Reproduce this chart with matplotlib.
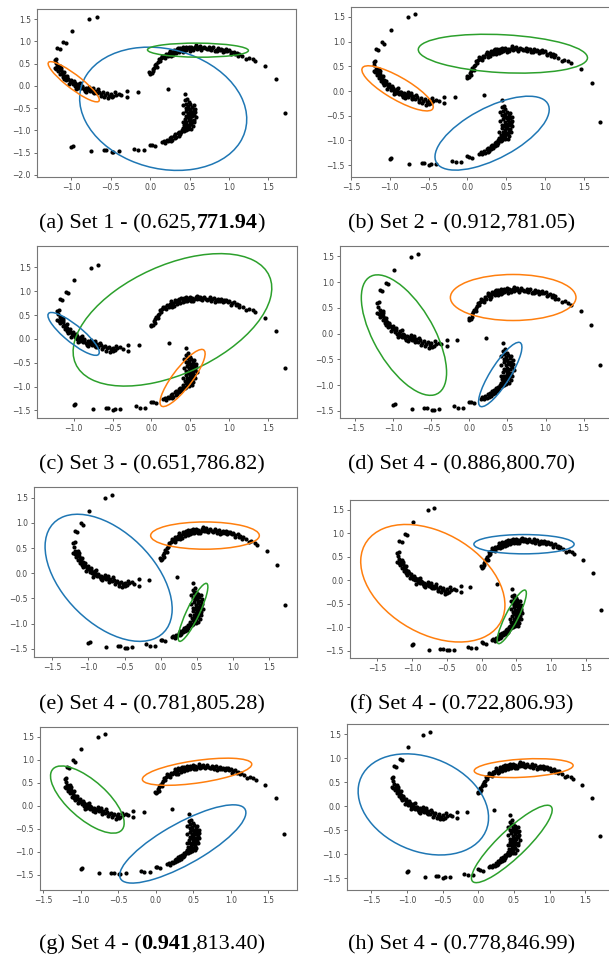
import numpy as np
import matplotlib
matplotlib.use("Agg")
import matplotlib.pyplot as plt
from matplotlib.patches import Ellipse

# the same two-moon style point set is drawn in every panel
upper_arc = [(0.00, 0.27), (0.02, 0.29), (-0.01, 0.30), (0.04, 0.33), (0.03, 0.37), (0.05, 0.41),
             (0.06, 0.46), (0.09, 0.43), (0.08, 0.50), (0.10, 0.53), (0.12, 0.56), (0.11, 0.60),
             (0.14, 0.62), (0.16, 0.64), (0.15, 0.68), (0.18, 0.66), (0.20, 0.71), (0.19, 0.62),
             (0.22, 0.68), (0.24, 0.74), (0.26, 0.72), (0.25, 0.79), (0.28, 0.76), (0.30, 0.81),
             (0.29, 0.70), (0.32, 0.77), (0.34, 0.82), (0.33, 0.74), (0.36, 0.79), (0.38, 0.85),
             (0.37, 0.75), (0.40, 0.81), (0.42, 0.86), (0.41, 0.77), (0.44, 0.83), (0.46, 0.80),
             (0.45, 0.87), (0.48, 0.85), (0.50, 0.82), (0.49, 0.88), (0.52, 0.86), (0.55, 0.84),
             (0.54, 0.80), (0.58, 0.91), (0.60, 0.87), (0.59, 0.83), (0.63, 0.89), (0.66, 0.85),
             (0.65, 0.81), (0.68, 0.88), (0.70, 0.84), (0.72, 0.82), (0.75, 0.87), (0.74, 0.83),
             (0.78, 0.84), (0.80, 0.86), (0.83, 0.81), (0.82, 0.78), (0.86, 0.84), (0.88, 0.80),
             (0.90, 0.83), (0.93, 0.81), (0.92, 0.77), (0.96, 0.82), (0.98, 0.78), (1.00, 0.80),
             (1.03, 0.75), (1.02, 0.72), (1.06, 0.77), (1.08, 0.71), (1.10, 0.74), (1.12, 0.68),
             (1.17, 0.67), (1.22, 0.61), (1.25, 0.63), (1.30, 0.60), (1.33, 0.56), (1.46, 0.44),
             (1.60, 0.16), (1.71, -0.62), (0.27, 0.68), (0.35, 0.84), (0.43, 0.79), (0.51, 0.79),
             (0.57, 0.87), (0.62, 0.84), (0.77, 0.80), (0.85, 0.79), (0.95, 0.79), (1.13, 0.72)]

left_arc = [(-0.68, 1.55), (-0.77, 1.49), (-0.99, 1.24), (-1.10, 0.99), (-1.07, 0.96), (-1.18, 0.84),
            (-1.15, 0.82), (-1.21, 0.59), (-1.19, 0.61), (-1.20, 0.52), (-1.18, 0.45), (-1.16, 0.42),
            (-1.21, 0.40), (-1.15, 0.37), (-1.17, 0.33), (-1.13, 0.35), (-1.12, 0.30), (-1.14, 0.27),
            (-1.10, 0.25), (-1.08, 0.22), (-1.11, 0.20), (-1.06, 0.18), (-1.04, 0.15), (-1.07, 0.12),
            (-1.02, 0.10), (-1.00, 0.08), (-1.03, 0.05), (-0.98, 0.03), (-0.96, 0.06), (-0.95, 0.00),
            (-0.93, 0.02), (-0.92, -0.04), (-0.90, -0.02), (-0.88, -0.06), (-0.86, -0.03), (-0.84, -0.08),
            (-0.82, -0.05), (-0.80, -0.10), (-0.78, -0.07), (-0.76, -0.12), (-0.74, -0.09), (-0.72, -0.14),
            (-0.70, -0.11), (-0.68, -0.16), (-0.65, -0.13), (-0.62, -0.18), (-0.60, -0.15), (-0.57, -0.20),
            (-0.55, -0.17), (-0.52, -0.22), (-0.50, -0.19), (-0.47, -0.24), (-0.44, -0.20), (-0.40, -0.18),
            (-0.37, -0.21), (-0.30, -0.12), (-0.30, -0.25), (-0.16, -0.13), (0.22, -0.08), (-1.13, 0.40),
            (-1.09, 0.31), (-1.05, 0.21), (-0.97, 0.10), (-0.91, 0.04), (-0.87, -0.01), (-0.83, -0.12),
            (-0.77, -0.03), (-0.71, -0.17), (-0.66, -0.08), (-0.58, -0.25), (-0.53, -0.28), (-0.45, -0.15),
            (-1.19, 0.38), (-1.14, 0.44), (-1.09, 0.16), (-1.01, 0.14), (-0.94, -0.07), (-0.89, 0.06),
            (-0.81, -0.14), (-0.73, -0.05), (-0.63, -0.22), (-0.49, -0.26)]

lower_arc = [(0.15, -1.27), (0.17, -1.24), (0.19, -1.28), (0.21, -1.22), (0.23, -1.25), (0.25, -1.18),
             (0.27, -1.15), (0.28, -1.21), (0.30, -1.12), (0.32, -1.09), (0.33, -1.15), (0.35, -1.06),
             (0.37, -1.03), (0.38, -1.09), (0.40, -1.00), (0.41, -0.96), (0.43, -1.02), (0.44, -0.93),
             (0.46, -0.95), (0.47, -0.88), (0.49, -0.91), (0.50, -0.84), (0.52, -0.87), (0.46, -0.82),
             (0.53, -0.80), (0.49, -0.78), (0.51, -0.74), (0.55, -0.76), (0.47, -0.71), (0.53, -0.69),
             (0.50, -0.66), (0.56, -0.65), (0.48, -0.62), (0.52, -0.59), (0.55, -0.55), (0.46, -0.56),
             (0.50, -0.52), (0.53, -0.48), (0.48, -0.46), (0.51, -0.42), (0.46, -0.40), (0.49, -0.37),
             (0.44, -0.33), (0.47, -0.30), (0.44, -0.19), (0.57, -0.60), (0.45, -0.68), (0.52, -0.97),
             (0.43, -0.89), (0.58, -0.70), (0.54, -0.62), (0.45, -0.49), (0.50, -0.72), (0.48, -0.98),
             (0.39, -1.05), (0.42, -0.61), (0.44, -0.75), (0.54, -0.91), (0.56, -0.82), (0.51, -0.55),
             (0.47, -0.52), (0.42, -0.43), (0.55, -0.44), (0.36, -1.12), (0.31, -1.17), (0.26, -1.23),
             (0.45, -1.00), (0.57, -0.52), (0.49, -0.68), (0.41, -0.82)]

bottom_row = [(-1.00, -1.38), (-0.98, -1.36), (-0.75, -1.47), (-0.59, -1.45), (-0.56, -1.45),
              (-0.49, -1.49), (-0.47, -1.48), (-0.40, -1.47), (-0.20, -1.41), (-0.15, -1.44),
              (-0.08, -1.44), (0.00, -1.32), (0.02, -1.33), (0.06, -1.35)]

pts = np.array(upper_arc + left_arc + lower_arc + bottom_row)

# fitted clusters per panel: (colour, centre x, centre y, half width x, half height y, correlation)
ellipses = {
    "a": [("tab:blue", 0.165, -0.517, 1.06, 1.385, -0.17),
          ("tab:orange", -0.97, 0.09, 0.325, 0.452, -0.90),
          ("tab:green", 0.606, 0.80, 0.64, 0.158, -0.05)],
    "b": [("tab:green", 0.457, 0.755, 1.09, 0.393, -0.21),
          ("tab:orange", -0.90, 0.054, 0.46, 0.457, -0.82),
          ("tab:blue", 0.318, -0.853, 0.736, 0.748, 0.64)],
    "c": [("tab:green", 0.27, 0.40, 1.276, 1.39, 0.48),
          ("tab:blue", -1.0, 0.105, 0.33, 0.45, -0.86),
          ("tab:orange", 0.40, -0.82, 0.29, 0.60, 0.85)],
    "d": [("tab:green", -0.86, -0.03, 0.56, 1.17, -0.62),
          ("tab:orange", 0.575, 0.70, 0.825, 0.447, 0.0),
          ("tab:blue", 0.405, -0.795, 0.285, 0.625, 0.85)],
    "e": [("tab:blue", -0.72, -0.09, 0.877, 1.26, -0.49),
          ("tab:orange", 0.61, 0.747, 0.75, 0.27, 0.0),
          ("tab:green", 0.445, -0.775, 0.205, 0.575, 0.88)],
    "f": [("tab:orange", -0.70, -0.06, 1.036, 1.25, -0.37),
          ("tab:blue", 0.61, 0.77, 0.72, 0.205, 0.0),
          ("tab:green", 0.434, -0.775, 0.21, 0.57, 0.88)],
    "g": [("tab:green", -0.91, 0.134, 0.49, 0.73, -0.70),
          ("tab:orange", 0.55, 0.738, 0.728, 0.295, 0.55),
          ("tab:blue", 0.36, -0.83, 0.84, 0.85, 0.80)],
    "h": [("tab:blue", -0.77, 0.034, 0.914, 1.054, -0.26),
          ("tab:orange", 0.636, 0.79, 0.693, 0.197, 0.28),
          ("tab:green", 0.47, -0.79, 0.566, 0.807, 0.88)],
}

captions = {
    "a": [("(a) Set 1 - (0.625,", "normal"), ("771.94", "bold"), (")", "normal")],
    "b": [("(b) Set 2 - (0.912,781.05)", "normal")],
    "c": [("(c) Set 3 - (0.651,786.82)", "normal")],
    "d": [("(d) Set 4 - (0.886,800.70)", "normal")],
    "e": [("(e) Set 4 - (0.781,805.28)", "normal")],
    "f": [("(f) Set 4 - (0.722,806.93)", "normal")],
    "g": [("(g) Set 4 - (", "normal"), ("0.941", "bold"), (",813.40)", "normal")],
    "h": [("(h) Set 4 - (0.778,846.99)", "normal")],
}

W, H = 609, 965
# frame in pixels (left, top, right, bottom), xlim, ylim, caption centre x, caption y
layout = {
    "a": ((37, 9, 296, 177), (-1.436, 1.85), (-2.05, 1.725), 152, 222),
    "b": ((351, 7, 611, 177), (-1.50, 1.85), (-1.74, 1.70), 462, 222),
    "c": ((37, 246, 297, 418), (-1.47, 1.87), (-1.66, 1.95), 152, 463),
    "d": ((340, 246, 611, 418), (-1.70, 1.86), (-1.64, 1.70), 462, 463),
    "e": ((34, 487, 297, 657), (-1.75, 1.88), (-1.66, 1.71), 152, 703),
    "f": ((350, 500, 611, 658), (-1.89, 1.86), (-1.65, 1.71), 462, 703),
    "g": ((40, 727, 297, 890), (-1.54, 1.88), (-1.83, 1.71), 152, 943),
    "h": ((347, 724, 611, 890), (-1.84, 1.86), (-1.75, 1.71), 462, 943),
}


def cluster_ellipse(color, cx, cy, hx, hy, rho):
    cov = np.array([[hx * hx, rho * hx * hy], [rho * hx * hy, hy * hy]])
    vals, vecs = np.linalg.eigh(cov)
    angle = np.degrees(np.arctan2(vecs[1, 1], vecs[0, 1]))
    return Ellipse((cx, cy), 2 * np.sqrt(vals[1]), 2 * np.sqrt(vals[0]), angle=angle,
                   fill=False, edgecolor=color, linewidth=1.1)


fig = plt.figure(figsize=(W / 100, H / 100), dpi=100)
renderer = fig.canvas.get_renderer()

for key, (box, xl, yl, capx, capy) in layout.items():
    l, t, r, b = box
    ax = fig.add_axes([l / W, 1 - b / H, (r - l) / W, (b - t) / H])
    ax.scatter(pts[:, 0], pts[:, 1], s=9, color="black", linewidths=0)
    for e in ellipses[key]:
        ax.add_patch(cluster_ellipse(*e))
    # ticks first, limits after (set_ticks would widen the view)
    ax.set_xticks(np.arange(-1.5, 1.51, 0.5))
    ax.set_yticks(np.arange(-2.0, 1.51, 0.5))
    ax.set_xlim(xl)
    ax.set_ylim(yl)
    ax.tick_params(labelsize=5.5, length=2.5, width=0.6, pad=2, colors="#555555",
                   labelcolor="#444444")
    for sp in ax.spines.values():
        sp.set_color("#777777")
        sp.set_linewidth(0.8)

    # caption with some bold pieces, centred under the panel
    texts = [fig.text(0, 0, s, fontsize=16, fontweight=wt, family="Liberation Serif",
                      va="baseline") for s, wt in captions[key]]
    widths = [tx.get_window_extent(renderer).width for tx in texts]
    x = capx - sum(widths) / 2
    for tx, wd in zip(texts, widths):
        tx.set_position((x / W, 1 - (capy + 6) / H))
        x += wd

fig.savefig("out.png", dpi=100)
